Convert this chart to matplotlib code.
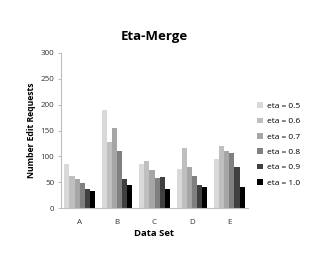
import matplotlib.pyplot as plt
import numpy as np

datasets = ["A", "B", "C", "D", "E"]
etas = ["eta = 0.5", "eta = 0.6", "eta = 0.7", "eta = 0.8", "eta = 0.9", "eta = 1.0"]
eta_05 = [86, 190, 85, 76, 96]
eta_06 = [63, 127, 91, 116, 121]
eta_07 = [56, 155, 74, 80, 110]
eta_08 = [48, 111, 58, 62, 106]
eta_09 = [37, 56, 60, 45, 79]
eta_10 = [34, 45, 38, 41, 42]
series = [eta_05, eta_06, eta_07, eta_08, eta_09, eta_10]
colors = ["#d9d9d9", "#bfbfbf", "#a6a6a6", "#808080", "#404040", "#000000"]

plt.rcParams['font.family'] = ['Open Sans', 'DejaVu Sans']

fig = plt.figure(figsize=(3.27, 2.73), dpi=100)
ax = fig.add_axes([61/327, 1 - 208.3/273, 187/327, 155.6/273])

x = np.arange(len(datasets))
w = 0.137
for i, (vals, c, lab) in enumerate(zip(series, colors, etas)):
    ax.bar(x + (i - 2.5) * w, vals, width=w, color=c, label=lab)

ax.set_xlim(-0.5, 4.5)
ax.set_ylim(0, 300)
ax.set_yticks(range(0, 301, 50))
ax.set_xticks(x)
ax.set_xticklabels(datasets)
ax.tick_params(axis='x', labelsize=5.8, colors='#333333', length=0, pad=8)
ax.tick_params(axis='y', labelsize=5.8, colors='#333333', length=2, color='#bfbfbf', pad=3)
for s in ['top', 'right']:
    ax.spines[s].set_visible(False)
for s in ['left', 'bottom']:
    ax.spines[s].set_color('#bfbfbf')
    ax.spines[s].set_linewidth(0.8)

ax.set_xlabel("Data Set", fontsize=6.8, fontweight='bold', labelpad=2)
ax.set_ylabel("Number Edit Requests", fontsize=6.2, fontweight='bold', labelpad=3)
ax.set_title("Eta-Merge", fontsize=9.5, fontweight='bold', pad=9)

ax.legend(loc='center left', bbox_to_anchor=(1.01, 0.41), frameon=False,
          fontsize=6, handlelength=0.7, handleheight=0.7, labelspacing=0.9,
          handletextpad=0.4)

fig.savefig("out.png", dpi=100)
